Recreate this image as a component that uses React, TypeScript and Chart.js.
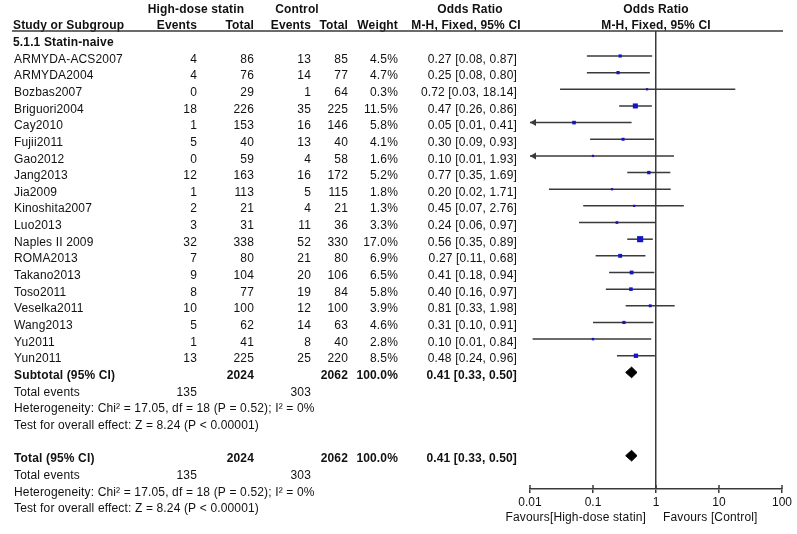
import React, { useEffect, useRef } from "react";
import { Chart, registerables } from "chart.js";
Chart.register(...registerables);

// ---- data ----
const studies = ["ARMYDA-ACS2007", "ARMYDA2004", "Bozbas2007", "Briguori2004", "Cay2010", "Fujii2011", "Gao2012", "Jang2013", "Jia2009", "Kinoshita2007", "Luo2013", "Naples II 2009", "ROMA2013", "Takano2013", "Toso2011", "Veselka2011", "Wang2013", "Yu2011", "Yun2011"];
const hdEvents = [4, 4, 0, 18, 1, 5, 0, 12, 1, 2, 3, 32, 7, 9, 8, 10, 5, 1, 13];
const hdTotal = [86, 76, 29, 226, 153, 40, 59, 163, 113, 21, 31, 338, 80, 104, 77, 100, 62, 41, 225];
const ctlEvents = [13, 14, 1, 35, 16, 13, 4, 16, 5, 4, 11, 52, 21, 20, 19, 12, 14, 8, 25];
const ctlTotal = [85, 77, 64, 225, 146, 40, 58, 172, 115, 21, 36, 330, 80, 106, 84, 100, 63, 40, 220];
const weights = [4.5, 4.7, 0.3, 11.5, 5.8, 4.1, 1.6, 5.2, 1.8, 1.3, 3.3, 17.0, 6.9, 6.5, 5.8, 3.9, 4.6, 2.8, 8.5];
const oddsRatio = [0.27, 0.25, 0.72, 0.47, 0.05, 0.30, 0.10, 0.77, 0.20, 0.45, 0.24, 0.56, 0.27, 0.41, 0.40, 0.81, 0.31, 0.10, 0.48];
const ciLow = [0.08, 0.08, 0.03, 0.26, 0.006, 0.09, 0.005, 0.35, 0.02, 0.07, 0.06, 0.35, 0.11, 0.18, 0.16, 0.33, 0.10, 0.011, 0.24];
const ciHigh = [0.87, 0.80, 18.14, 0.86, 0.41, 0.93, 1.93, 1.69, 1.71, 2.76, 0.97, 0.89, 0.68, 0.94, 0.97, 1.98, 0.91, 0.84, 0.96];
const ciLabels = ["0.27 [0.08, 0.87]", "0.25 [0.08, 0.80]", "0.72 [0.03, 18.14]", "0.47 [0.26, 0.86]", "0.05 [0.01, 0.41]", "0.30 [0.09, 0.93]", "0.10 [0.01, 1.93]", "0.77 [0.35, 1.69]", "0.20 [0.02, 1.71]", "0.45 [0.07, 2.76]", "0.24 [0.06, 0.97]", "0.56 [0.35, 0.89]", "0.27 [0.11, 0.68]", "0.41 [0.18, 0.94]", "0.40 [0.16, 0.97]", "0.81 [0.33, 1.98]", "0.31 [0.10, 0.91]", "0.10 [0.01, 0.84]", "0.48 [0.24, 0.96]"];

const pooledOR = 0.41;
const pooledLow = 0.33;
const pooledHigh = 0.50;
const pooledLabel = "0.41 [0.33, 0.50]";
const sumHdTotal = 2024;
const sumCtlTotal = 2062;
const sumHdEvents = 135;
const sumCtlEvents = 303;
const hetText = "Heterogeneity: Chi\u00B2 = 17.05, df = 18 (P = 0.52); I\u00B2 = 0%";
const effectText = "Test for overall effect: Z = 8.24 (P < 0.00001)";
const xTicks = [0.01, 0.1, 1, 10, 100];
const xMin = 0.01;
const xMax = 100;

// row indices (y units)
const subtotalRow = 19;
const totalRow = 24;

const FONT = '"Liberation Sans", Arial, sans-serif';
const TEXT_COLOR = "#111";
const LINE_COLOR = "#3a3a3a";
const SQUARE_COLOR = "#1414c8";

const tablePlugin = {
  id: "tablePlugin",
  afterDraw(chart: any) {
    const ctx = chart.ctx as CanvasRenderingContext2D;
    const ys = chart.scales.y;
    const xs = chart.scales.x;
    const ty = (r: number) => ys.getPixelForValue(r) + 3.3;
    ctx.save();
    (ctx as any).letterSpacing = "0.15px";
    ctx.fillStyle = TEXT_COLOR;
    ctx.textBaseline = "middle";
    const t = (s: string, px: number, r: number, align: CanvasTextAlign, bold = false) => {
      ctx.font = `${bold ? "bold " : ""}12px ${FONT}`;
      ctx.textAlign = align;
      ctx.fillText(s, px, ty(r));
    };
    const cName = 14, cE1 = 197, cT1 = 254, cE2 = 311, cT2 = 348, cW = 398, cOR = 517;
    const x1 = xs.getPixelForValue(1);

    // headers
    t("High-dose statin", 196, -3, "center", true);
    t("Control", 297, -3, "center", true);
    t("Odds Ratio", 470, -3, "center", true);
    t("Odds Ratio", x1, -3, "center", true);
    t("Study or Subgroup", cName - 1, -2, "left", true);
    t("Events", cE1, -2, "right", true);
    t("Total", cT1, -2, "right", true);
    t("Events", cE2, -2, "right", true);
    t("Total", cT2, -2, "right", true);
    t("Weight", cW, -2, "right", true);
    t("M-H, Fixed, 95% CI", 466, -2, "center", true);
    t("M-H, Fixed, 95% CI", x1, -2, "center", true);

    // header underline
    ctx.strokeStyle = LINE_COLOR;
    ctx.lineWidth = 1.5;
    ctx.beginPath();
    const hy = ys.getPixelForValue(-1.5);
    ctx.moveTo(12, hy);
    ctx.lineTo(783, hy);
    ctx.stroke();

    t("5.1.1 Statin-naive", cName - 1, -1, "left", true);
    studies.forEach((s, i) => {
      t(s, cName, i, "left");
      t(String(hdEvents[i]), cE1, i, "right");
      t(String(hdTotal[i]), cT1, i, "right");
      t(String(ctlEvents[i]), cE2, i, "right");
      t(String(ctlTotal[i]), cT2, i, "right");
      t(weights[i].toFixed(1) + "%", cW, i, "right");
      t(ciLabels[i], cOR, i, "right");
    });
    const block = (r0: number, title: string) => {
      t(title, cName, r0, "left", true);
      t(String(sumHdTotal), cT1, r0, "right", true);
      t(String(sumCtlTotal), cT2, r0, "right", true);
      t("100.0%", cW, r0, "right", true);
      t(pooledLabel, cOR, r0, "right", true);
      t("Total events", cName, r0 + 1, "left");
      t(String(sumHdEvents), cE1, r0 + 1, "right");
      t(String(sumCtlEvents), cE2, r0 + 1, "right");
      t(hetText, cName, r0 + 2, "left");
      t(effectText, cName, r0 + 3, "left");
    };
    block(subtotalRow, "Subtotal (95% CI)");
    block(totalRow, "Total (95% CI)");

    // arrows for truncated CIs
    ctx.fillStyle = LINE_COLOR;
    ciLow.forEach((lo, i) => {
      if (lo < xMin) {
        const px = xs.getPixelForValue(xMin);
        const py = ys.getPixelForValue(i);
        ctx.beginPath();
        ctx.moveTo(px, py);
        ctx.lineTo(px + 6, py - 3.5);
        ctx.lineTo(px + 6, py + 3.5);
        ctx.closePath();
        ctx.fill();
      }
    });

    // upward tick parts
    ctx.strokeStyle = LINE_COLOR;
    ctx.lineWidth = 1.5;
    const by = chart.chartArea.bottom;
    xTicks.forEach((v) => {
      const px = xs.getPixelForValue(v);
      ctx.beginPath();
      ctx.moveTo(px, by - 4);
      ctx.lineTo(px, by);
      ctx.stroke();
    });

    // favours labels
    ctx.fillStyle = TEXT_COLOR;
    ctx.font = `12px ${FONT}`;
    ctx.textAlign = "right";
    ctx.fillText("Favours[High-dose statin]", x1 - 10, by + 29);
    ctx.textAlign = "left";
    ctx.fillText("Favours [Control]", x1 + 7, by + 29);
    ctx.restore();
  },
};

export default function App() {
  const ref = useRef<HTMLCanvasElement | null>(null);
  useEffect(() => {
    if (!ref.current) return;
    const ciSets = studies.map((s, i) => ({
      label: s,
      data: [
        { x: Math.max(ciLow[i], xMin), y: i },
        { x: ciHigh[i], y: i },
      ],
      borderColor: LINE_COLOR,
      borderWidth: 1.5,
      pointRadius: 0,
      fill: false,
      order: 2,
      clip: false as any,
    }));
    const squares = {
      label: "estimates",
      data: oddsRatio.map((v, i) => ({ x: v, y: i })),
      showLine: false,
      pointStyle: "rect",
      pointRadius: weights.map((w) => Math.max(1.6, 1.05 * Math.sqrt(w))),
      pointBackgroundColor: SQUARE_COLOR,
      pointBorderColor: SQUARE_COLOR,
      pointBorderWidth: 0,
      order: 0,
      clip: false as any,
    };
    const diamond = (r: number) => ({
      label: "pooled",
      data: [
        { x: pooledLow, y: r },
        { x: pooledOR, y: r - 0.32 },
        { x: pooledHigh, y: r },
        { x: pooledOR, y: r + 0.32 },
        { x: pooledLow, y: r },
      ],
      borderColor: "#000",
      backgroundColor: "#000",
      borderWidth: 1,
      pointRadius: 0,
      fill: "shape",
      tension: 0,
      order: 0,
    });
    const chart = new Chart(ref.current, {
      type: "line",
      data: {
        datasets: [...ciSets, squares, diamond(subtotalRow), diamond(totalRow)] as any,
      },
      options: {
        animation: false,
        responsive: false,
        events: [],
        layout: { padding: { left: 530, right: 15, top: 31, bottom: 0 } },
        plugins: { legend: { display: false }, tooltip: { enabled: false } },
        scales: {
          x: {
            type: "logarithmic",
            min: xMin,
            max: xMax,
            afterBuildTicks: (scale: any) => {
              scale.ticks = xTicks.map((v) => ({ value: v }));
            },
            afterFit: (scale: any) => {
              scale.height = 45;
            },
            ticks: {
              autoSkip: false,
              maxRotation: 0,
              padding: 2,
              color: TEXT_COLOR,
              font: { family: FONT, size: 12 },
              callback: (v: any) => String(v),
            },
            grid: {
              color: (c: any) => (c.tick && c.tick.value === 1 ? LINE_COLOR : "rgba(0,0,0,0)"),
              lineWidth: 1.5,
              tickColor: LINE_COLOR,
              tickLength: 4,
              drawTicks: true,
            },
            border: { display: true, color: LINE_COLOR, width: 1.5 },
          },
          y: {
            type: "linear",
            display: false,
            reverse: true,
            min: -1.5,
            max: 26,
          },
        },
      },
      plugins: [tablePlugin],
    });
    return () => chart.destroy();
  }, []);
  return (
    <div style={{ position: "absolute", left: 0, top: 0, width: 797, height: 534, background: "#fff" }}>
      <canvas ref={ref} width={797} height={534} style={{ width: 797, height: 534, display: "block" }} />
    </div>
  );
}
